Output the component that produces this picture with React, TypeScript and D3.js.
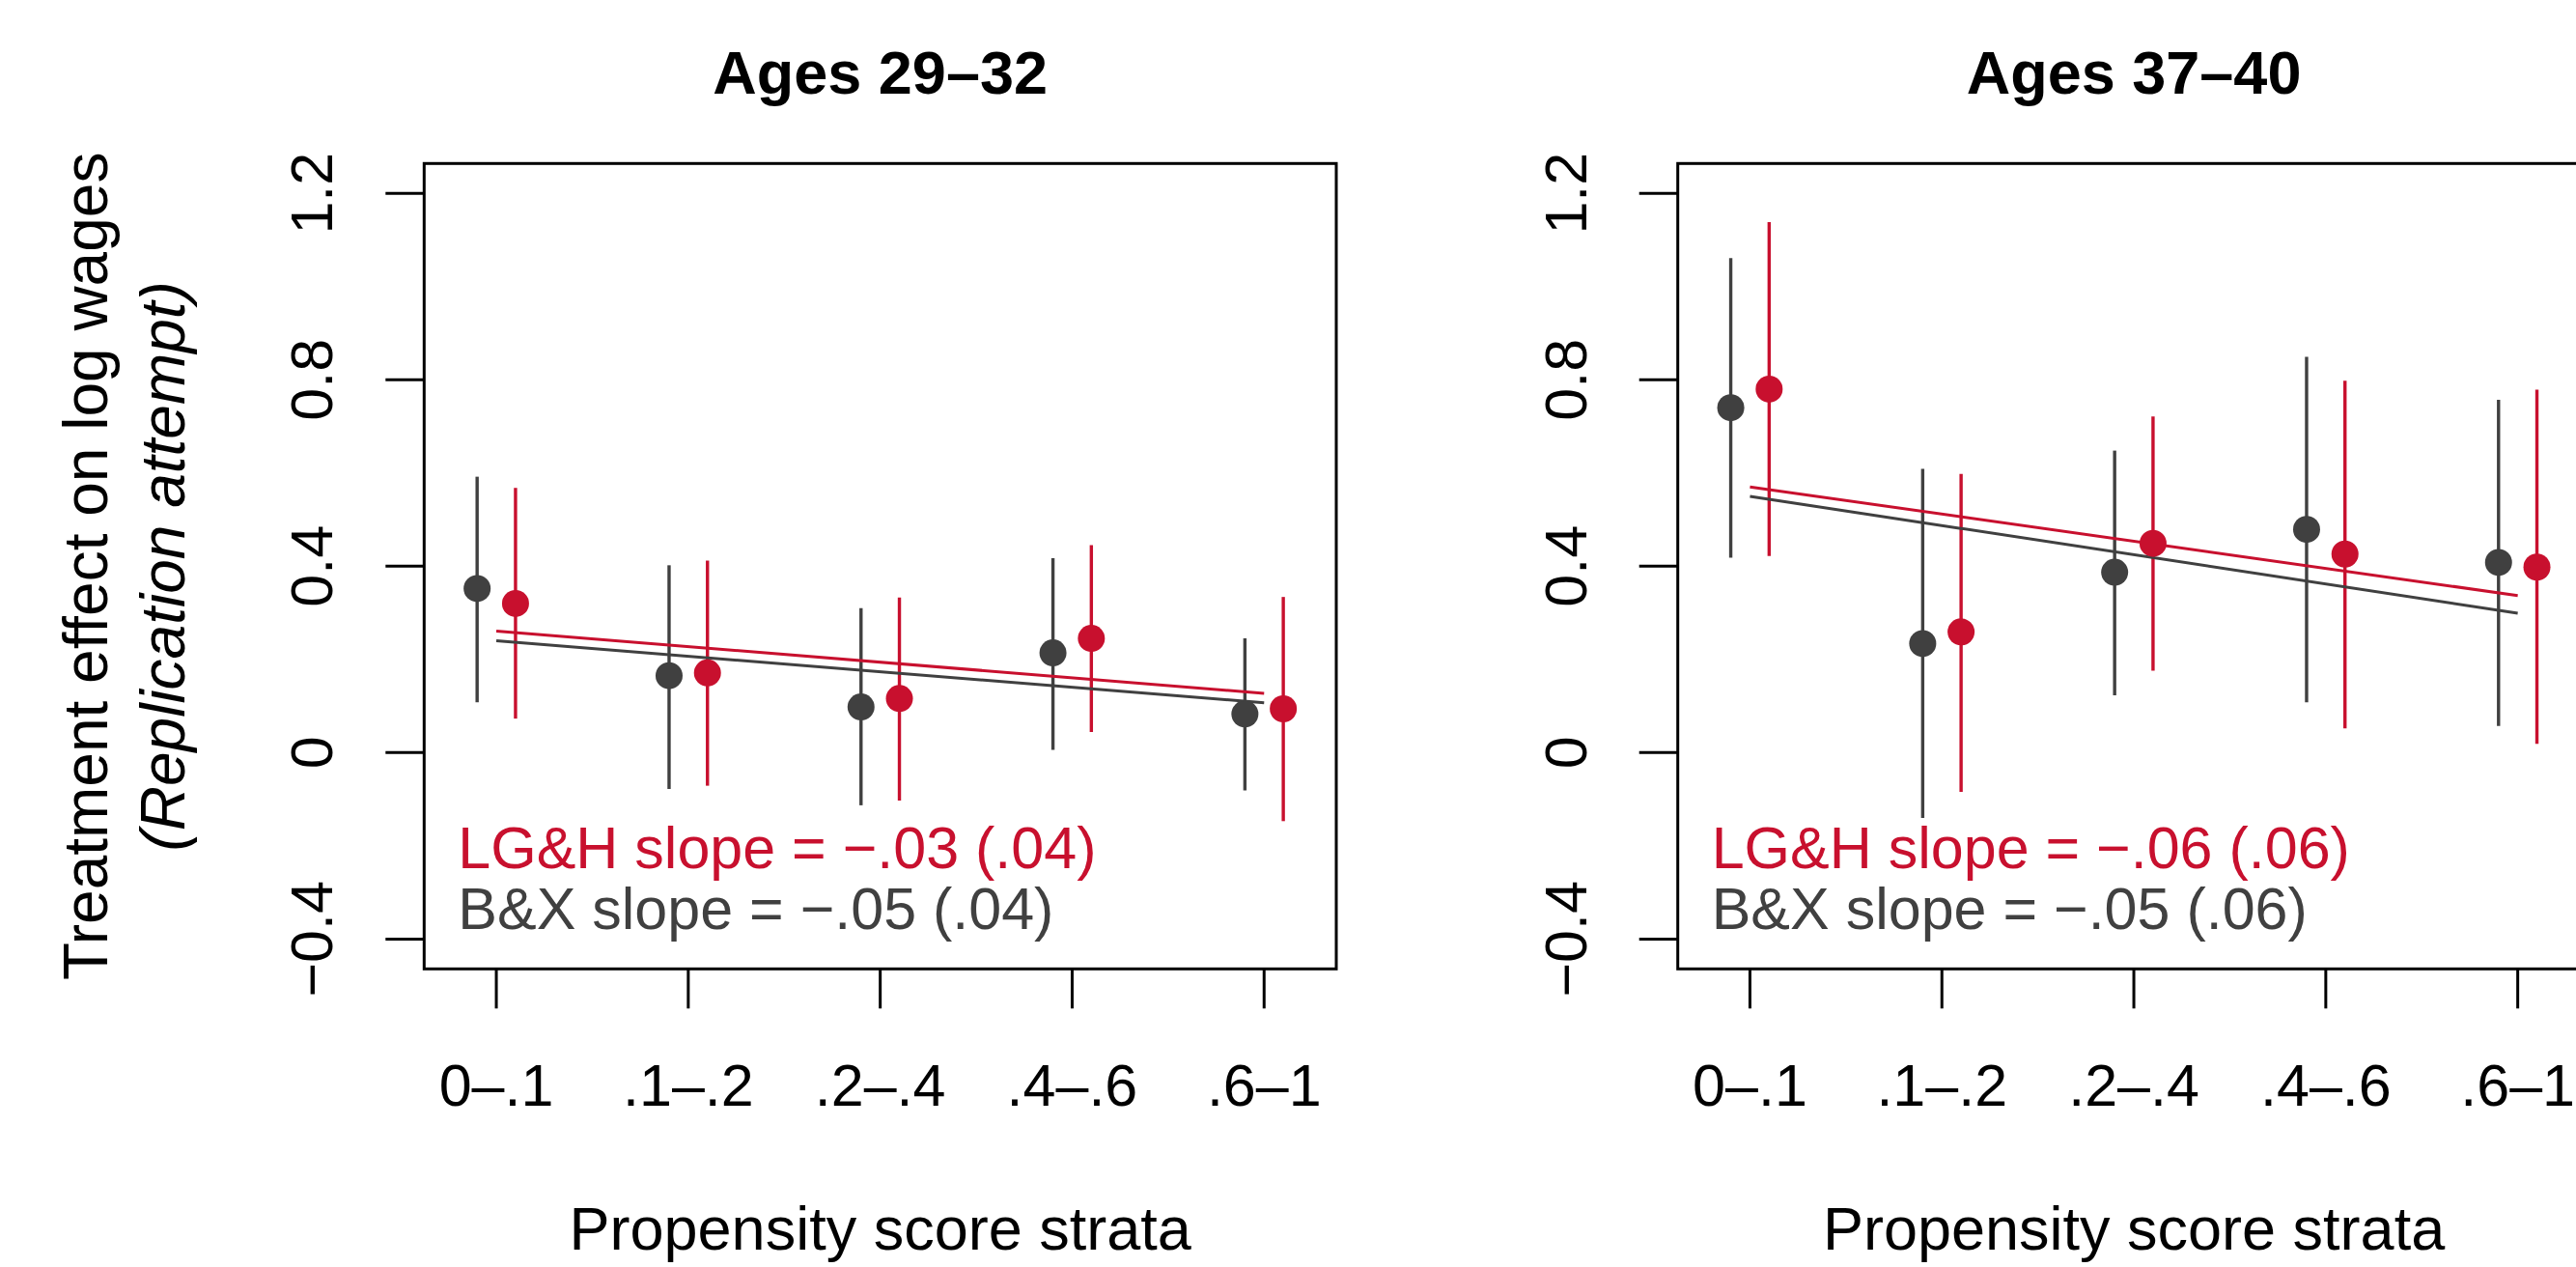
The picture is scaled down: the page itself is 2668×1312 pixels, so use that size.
import * as d3 from 'd3';

const strata = ['0–.1', '.1–.2', '.2–.4', '.4–.6', '.6–1'];
const yTicks = [-0.4, 0, 0.4, 0.8, 1.2];
const yTickLabels = ['−0.4', '0', '0.4', '0.8', '1.2'];
const panelTitles = ['Ages 29–32', 'Ages 37–40'];

// Ages 29-32
const bx29Est = [0.352, 0.165, 0.098, 0.214, 0.083];
const bx29Lo = [0.108, -0.078, -0.113, 0.006, -0.081];
const bx29Hi = [0.592, 0.402, 0.31, 0.417, 0.245];
const lgh29Est = [0.32, 0.171, 0.116, 0.245, 0.094];
const lgh29Lo = [0.073, -0.071, -0.103, 0.044, -0.147];
const lgh29Hi = [0.568, 0.412, 0.333, 0.445, 0.334];
const bx29Fit = [0.24, 0.107];
const lgh29Fit = [0.261, 0.127];

// Ages 37-40
const bx37Est = [0.74, 0.234, 0.387, 0.479, 0.408];
const bx37Lo = [0.418, -0.14, 0.123, 0.108, 0.057];
const bx37Hi = [1.061, 0.609, 0.648, 0.849, 0.757];
const lgh37Est = [0.78, 0.259, 0.449, 0.426, 0.398];
const lgh37Lo = [0.422, -0.084, 0.176, 0.052, 0.019];
const lgh37Hi = [1.138, 0.598, 0.721, 0.798, 0.779];
const bx37Fit = [0.55, 0.299];
const lgh37Fit = [0.57, 0.337];

const lghSlopeText = ['LG&H slope = −.03 (.04)', 'LG&H slope = −.06 (.06)'];
const bxSlopeText = ['B&X slope = −.05 (.04)', 'B&X slope = −.05 (.06)'];

const W = 2668;
const H = 1312;
const RED = '#c8102e';
const GRAY = '#404040';
const FONT = "'Liberation Sans', Arial, Helvetica, sans-serif";

const plotW = 944.7;
const plotH = 834;
const plotTop = 169.3;
const panelLefts = [439.3, 1737.7];

const x = d3.scaleLinear().domain([0.624, 5.376]).range([0, plotW]);
const y = d3.scaleLinear().domain([-0.464, 1.264]).range([plotH, 0]);

type Series = { est: number[]; lo: number[]; hi: number[]; fit: number[] };

function Estimates({ s, shift, color }: { s: Series; shift: number; color: string }) {
	return (
		<g>
			{s.est.map((v, i) => (
				<line
					key={'b' + i}
					x1={x(i + 1 + shift)}
					x2={x(i + 1 + shift)}
					y1={y(s.lo[i])}
					y2={y(s.hi[i])}
					stroke={color}
					strokeWidth={3.4}
				/>
			))}
		</g>
	);
}

function Dots({ s, shift, color }: { s: Series; shift: number; color: string }) {
	return (
		<g>
			{s.est.map((v, i) => (
				<circle key={'p' + i} cx={x(i + 1 + shift)} cy={y(v)} r={14} fill={color} />
			))}
		</g>
	);
}

function FitLine({ fit, color }: { fit: number[]; color: string }) {
	return <line x1={x(1)} y1={y(fit[0])} x2={x(strata.length)} y2={y(fit[1])} stroke={color} strokeWidth={3} />;
}

function Panel({ idx, bx, lgh, showYLabel }: { idx: number; bx: Series; lgh: Series; showYLabel: boolean }) {
	const left = panelLefts[idx];
	return (
		<g transform={`translate(${left},${plotTop})`}>
			<text x={plotW / 2} y={97 - plotTop} textAnchor="middle" fontWeight="bold" fontSize={63}>
				{panelTitles[idx]}
			</text>

			{/* y axis */}
			{yTicks.map((t, i) => (
				<g key={t} transform={`translate(0,${y(t)})`}>
					<line x1={-40} x2={0} stroke="#000" strokeWidth={3} />
					<text transform="translate(-95,0) rotate(-90)" textAnchor="middle" fontSize={61}>
						{yTickLabels[i]}
					</text>
				</g>
			))}

			{/* x axis */}
			{strata.map((s, i) => (
				<g key={s} transform={`translate(${x(i + 1)},${plotH})`}>
					<line y1={0} y2={41} stroke="#000" strokeWidth={3} />
					<text y={1145 - plotTop - plotH} textAnchor="middle" fontSize={61}>
						{s}
					</text>
				</g>
			))}
			<text x={plotW / 2} y={1294 - plotTop} textAnchor="middle" fontSize={63}>
				Propensity score strata
			</text>

			{showYLabel && (
				<g transform={`translate(0,${plotH / 2}) rotate(-90)`} textAnchor="middle" fontSize={64}>
					<text y={-328}>Treatment effect on log wages</text>
					<text y={-248} fontStyle="italic">
						(Replication attempt)
					</text>
				</g>
			)}

			<Estimates s={bx} shift={-0.1} color={GRAY} />
			<Estimates s={lgh} shift={0.1} color={RED} />
			<FitLine fit={lgh.fit} color={RED} />
			<FitLine fit={bx.fit} color={GRAY} />
			<Dots s={bx} shift={-0.1} color={GRAY} />
			<Dots s={lgh} shift={0.1} color={RED} />

			<text x={x(0.8)} y={y(-0.248)} fill={RED} fontSize={61}>
				{lghSlopeText[idx]}
			</text>
			<text x={x(0.8)} y={y(-0.379)} fill={GRAY} fontSize={61}>
				{bxSlopeText[idx]}
			</text>

			<rect x={0} y={0} width={plotW} height={plotH} fill="none" stroke="#000" strokeWidth={3} />
		</g>
	);
}

export default function App() {
	const bx29 = { est: bx29Est, lo: bx29Lo, hi: bx29Hi, fit: bx29Fit };
	const lgh29 = { est: lgh29Est, lo: lgh29Lo, hi: lgh29Hi, fit: lgh29Fit };
	const bx37 = { est: bx37Est, lo: bx37Lo, hi: bx37Hi, fit: bx37Fit };
	const lgh37 = { est: lgh37Est, lo: lgh37Lo, hi: lgh37Hi, fit: lgh37Fit };

	return (
		<svg
			width={W}
			height={H}
			style={{ position: 'absolute', left: 0, top: 0, background: '#fff', display: 'block' }}
			fontFamily={FONT}
		>
			<rect width={W} height={H} fill="#fff" />
			<Panel idx={0} bx={bx29} lgh={lgh29} showYLabel={true} />
			<Panel idx={1} bx={bx37} lgh={lgh37} showYLabel={false} />
		</svg>
	);
}
